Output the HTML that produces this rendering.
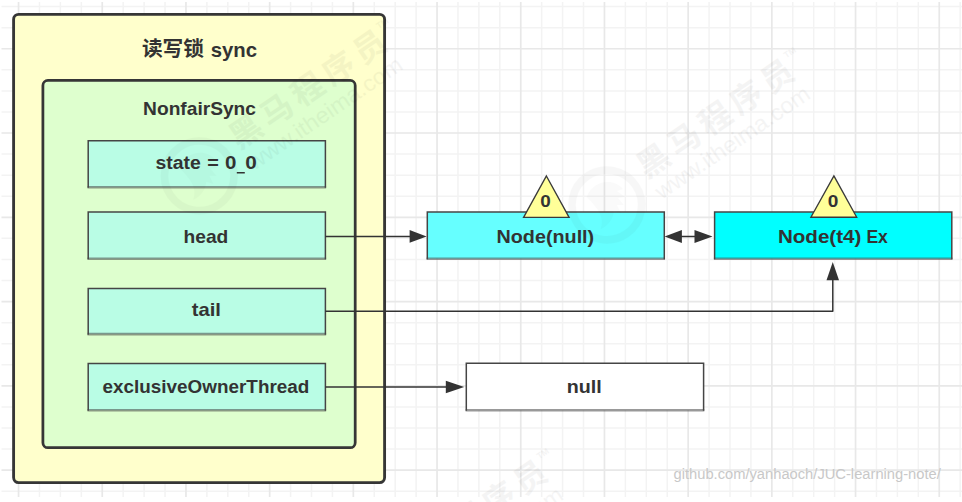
<!DOCTYPE html>
<html><head><meta charset="utf-8"><title>diagram</title>
<style>
html,body{margin:0;padding:0;background:#fff;}
body{width:962px;height:502px;overflow:hidden;}
svg{display:block;font-family:"Liberation Sans",sans-serif;}
</style></head><body>
<svg width="962" height="502" viewBox="0 0 962 502">
<rect width="962" height="502" fill="#ffffff"/>
<path d="M39.48 2 V497 M60.40 2 V497 M81.33 2 V497 M123.17 2 V497 M144.10 2 V497 M165.03 2 V497 M206.88 2 V497 M227.80 2 V497 M248.73 2 V497 M290.58 2 V497 M311.50 2 V497 M332.43 2 V497 M374.28 2 V497 M395.20 2 V497 M416.12 2 V497 M457.98 2 V497 M478.90 2 V497 M499.83 2 V497 M541.67 2 V497 M562.60 2 V497 M583.52 2 V497 M625.38 2 V497 M646.30 2 V497 M667.23 2 V497 M709.07 2 V497 M730.00 2 V497 M750.92 2 V497 M792.77 2 V497 M813.70 2 V497 M834.62 2 V497 M876.48 2 V497 M897.40 2 V497 M918.32 2 V497 M960.17 2 V497 M1.5 6.60 H962 M1.5 27.67 H962 M1.5 69.81 H962 M1.5 90.88 H962 M1.5 111.95 H962 M1.5 154.09 H962 M1.5 175.16 H962 M1.5 196.23 H962 M1.5 238.37 H962 M1.5 259.44 H962 M1.5 280.51 H962 M1.5 322.65 H962 M1.5 343.72 H962 M1.5 364.79 H962 M1.5 406.93 H962 M1.5 428.00 H962 M1.5 449.07 H962 M1.5 491.21 H962" stroke="#f3f3f3" stroke-width="1.5" fill="none"/>
<path d="M18.55 2 V497 M102.25 2 V497 M185.95 2 V497 M269.65 2 V497 M353.35 2 V497 M437.05 2 V497 M520.75 2 V497 M604.45 2 V497 M688.15 2 V497 M771.85 2 V497 M855.55 2 V497 M939.25 2 V497 M1.5 48.74 H962 M1.5 133.02 H962 M1.5 217.30 H962 M1.5 301.58 H962 M1.5 385.86 H962 M1.5 470.14 H962" stroke="#e8e8e8" stroke-width="1.7" fill="none"/>
<rect x="13.60" y="14.40" width="371.00" height="468.20" rx="5" fill="#ffffcc" stroke="#363636" stroke-width="2.85"/>
<rect x="42.90" y="80.40" width="312.30" height="367.30" rx="5" fill="#deffce" stroke="#363636" stroke-width="2.75"/>
<rect x="88.20" y="140.85" width="237.20" height="46.35" fill="#b9fde5"/><path d="M87.50 187.30 H326.10" stroke="#454545" stroke-opacity="0.55" stroke-width="2.6" fill="none"/><path d="M88.20 187.80 V140.85 H325.40 V187.80" stroke="#454545" stroke-width="1.5" fill="none" stroke-linejoin="miter"/>
<rect x="88.20" y="212.10" width="237.20" height="46.60" fill="#b9fde5"/><path d="M87.50 258.80 H326.10" stroke="#454545" stroke-opacity="0.55" stroke-width="2.6" fill="none"/><path d="M88.20 259.30 V212.10 H325.40 V259.30" stroke="#454545" stroke-width="1.5" fill="none" stroke-linejoin="miter"/>
<rect x="88.20" y="288.45" width="237.20" height="45.60" fill="#b9fde5"/><path d="M87.50 334.15 H326.10" stroke="#454545" stroke-opacity="0.55" stroke-width="2.6" fill="none"/><path d="M88.20 334.65 V288.45 H325.40 V334.65" stroke="#454545" stroke-width="1.5" fill="none" stroke-linejoin="miter"/>
<rect x="88.20" y="363.50" width="237.20" height="46.60" fill="#b9fde5"/><path d="M87.50 410.20 H326.10" stroke="#454545" stroke-opacity="0.55" stroke-width="2.6" fill="none"/><path d="M88.20 410.70 V363.50 H325.40 V410.70" stroke="#454545" stroke-width="1.5" fill="none" stroke-linejoin="miter"/>
<rect x="427.30" y="212.10" width="237.00" height="46.60" fill="#66ffff"/><path d="M426.60 258.80 H665.00" stroke="#454545" stroke-opacity="0.55" stroke-width="2.6" fill="none"/><path d="M427.30 259.30 V212.10 H664.30 V259.30" stroke="#454545" stroke-width="1.5" fill="none" stroke-linejoin="miter"/>
<rect x="714.60" y="212.05" width="237.20" height="46.65" fill="#00ffff"/><path d="M713.90 258.80 H952.50" stroke="#454545" stroke-opacity="0.55" stroke-width="2.6" fill="none"/><path d="M714.60 259.30 V212.05 H951.80 V259.30" stroke="#454545" stroke-width="1.5" fill="none" stroke-linejoin="miter"/>
<rect x="466.30" y="363.30" width="237.30" height="46.80" fill="#ffffff"/><path d="M465.60 410.20 H704.30" stroke="#454545" stroke-opacity="0.55" stroke-width="2.6" fill="none"/><path d="M466.30 410.70 V363.30 H703.60 V410.70" stroke="#454545" stroke-width="1.5" fill="none" stroke-linejoin="miter"/>
<path d="M546.40 176.00 L569.10 217.40 L523.60 217.40 Z" fill="#ffff99" stroke="#3a3a3a" stroke-width="1.35" stroke-linejoin="miter"/>
<path d="M833.90 175.90 L856.70 217.20 L810.90 217.20 Z" fill="#ffff99" stroke="#3a3a3a" stroke-width="1.35" stroke-linejoin="miter"/>
<path d="M325.40 236.40 H410.60" stroke="#333333" stroke-width="1.5" fill="none"/><path d="M426.60 236.40 L409.60 230.00 L409.60 242.80 Z" fill="#333333"/>
<path d="M325.40 387.05 H446.80" stroke="#333333" stroke-width="1.5" fill="none"/><path d="M464.20 387.05 L445.80 380.85 L445.80 393.25 Z" fill="#333333"/>
<path d="M670 236.40 H708" stroke="#333333" stroke-width="1.5"/>
<path d="M664.6 236.40 L681.9 229.90 L681.9 242.90 Z" fill="#333333"/>
<path d="M712.5 236.40 L694.5 229.90 L694.5 242.90 Z" fill="#333333"/>
<path d="M325.4 311.15 H832.8 V279" stroke="#333333" stroke-width="1.5" fill="none" stroke-linejoin="round"/>
<path d="M832.75 262.0 L826.5 280.3 L839.0 280.3 Z" fill="#333333"/>
<g opacity="0.999">
<text x="143.10" y="115.00" font-size="18.2" font-weight="bold" fill="#333333" textLength="112.90" lengthAdjust="spacingAndGlyphs" >NonfairSync</text>
<text x="155.40" y="169.00" font-size="17.6" font-weight="bold" fill="#333333" textLength="45.30" lengthAdjust="spacingAndGlyphs" >state</text>
<text x="207.30" y="169.00" font-size="17.6" font-weight="bold" fill="#333333" textLength="11.60" lengthAdjust="spacingAndGlyphs" >=</text>
<text x="224.90" y="169.00" font-size="17.6" font-weight="bold" fill="#333333" textLength="11.40" lengthAdjust="spacingAndGlyphs" >0</text>
<text x="245.20" y="169.00" font-size="17.6" font-weight="bold" fill="#333333" textLength="11.50" lengthAdjust="spacingAndGlyphs" >0</text>
<rect x="236.8" y="172.0" width="8.0" height="1.5" fill="#333333"/>
<text x="183.50" y="242.60" font-size="19" font-weight="bold" fill="#333333" textLength="44.80" lengthAdjust="spacingAndGlyphs" >head</text>
<text x="191.70" y="316.40" font-size="19" font-weight="bold" fill="#333333" textLength="29.20" lengthAdjust="spacingAndGlyphs" >tail</text>
<text x="102.60" y="393.20" font-size="18.0" font-weight="bold" fill="#333333" textLength="206.70" lengthAdjust="spacingAndGlyphs" >exclusiveOwnerThread</text>
<text x="496.50" y="242.70" font-size="18.4" font-weight="bold" fill="#333333" textLength="97.70" lengthAdjust="spacingAndGlyphs" >Node(null)</text>
<text x="777.90" y="242.70" font-size="18.4" font-weight="bold" fill="#333333" textLength="83.50" lengthAdjust="spacingAndGlyphs" >Node(t4)</text>
<text x="866.40" y="242.70" font-size="18.4" font-weight="bold" fill="#333333" textLength="21.50" lengthAdjust="spacingAndGlyphs" >Ex</text>
<text x="566.80" y="393.30" font-size="19" font-weight="bold" fill="#333333" textLength="35.00" lengthAdjust="spacingAndGlyphs" >null</text>
<text x="540.30" y="206.80" font-size="16.2" font-weight="bold" fill="#333333" textLength="10.50" lengthAdjust="spacingAndGlyphs" >0</text>
<text x="827.70" y="206.80" font-size="16.2" font-weight="bold" fill="#333333" textLength="10.60" lengthAdjust="spacingAndGlyphs" >0</text>
<text x="210.70" y="56.80" font-size="20.2" font-weight="bold" fill="#333333" textLength="46.30" lengthAdjust="spacingAndGlyphs" >sync</text>
</g>
<text x="141.9" y="56.3" font-size="20.4" font-weight="bold" fill="#333333" textLength="62" lengthAdjust="spacingAndGlyphs" style="font-family:'Liberation Sans','Noto Sans CJK SC',sans-serif;">读写锁</text>
<g transform="translate(606.8,205.0) rotate(-34.3)" opacity="0.038"><circle cx="0" cy="0" r="34.8" fill="none" stroke="#000" stroke-width="7.6" opacity="0.65"/><g transform="rotate(34.3)"><path d="M-20 -8 C-14 -24 6 -28 16 -16 L10 -14 L18 -8 L11 -7 L17 0 L10 0 L14 8 L7 6 C6 14 2 20 -6 24 C-2 12 -8 4 -20 -8 Z" fill="#000" opacity="0.45"/></g><text x="47.25" y="0.97" font-size="32" font-weight="bold" fill="#000" textLength="182" lengthAdjust="spacing" style="font-family:'Liberation Sans','Noto Sans CJK SC',sans-serif;">黑马程序员</text><text x="48" y="26.8" font-size="22.5" textLength="182" lengthAdjust="spacingAndGlyphs" fill="#000">www.itheima.com</text><text x="231" y="-20" font-size="8.5" font-weight="bold" fill="#000">TM</text></g>
<g transform="translate(199.3,175.8) rotate(-34.3)" opacity="0.038"><circle cx="0" cy="0" r="34.8" fill="none" stroke="#000" stroke-width="7.6" opacity="0.65"/><g transform="rotate(34.3)"><path d="M-20 -8 C-14 -24 6 -28 16 -16 L10 -14 L18 -8 L11 -7 L17 0 L10 0 L14 8 L7 6 C6 14 2 20 -6 24 C-2 12 -8 4 -20 -8 Z" fill="#000" opacity="0.45"/></g><text x="47.25" y="0.97" font-size="32" font-weight="bold" fill="#000" textLength="182" lengthAdjust="spacing" style="font-family:'Liberation Sans','Noto Sans CJK SC',sans-serif;">黑马程序员</text><text x="48" y="26.8" font-size="22.5" textLength="182" lengthAdjust="spacingAndGlyphs" fill="#000">www.itheima.com</text><text x="231" y="-20" font-size="8.5" font-weight="bold" fill="#000">TM</text></g>
<g transform="translate(359.8,606.0) rotate(-34.3)" opacity="0.038"><circle cx="0" cy="0" r="34.8" fill="none" stroke="#000" stroke-width="7.6" opacity="0.65"/><g transform="rotate(34.3)"><path d="M-20 -8 C-14 -24 6 -28 16 -16 L10 -14 L18 -8 L11 -7 L17 0 L10 0 L14 8 L7 6 C6 14 2 20 -6 24 C-2 12 -8 4 -20 -8 Z" fill="#000" opacity="0.45"/></g><text x="47.25" y="0.97" font-size="32" font-weight="bold" fill="#000" textLength="182" lengthAdjust="spacing" style="font-family:'Liberation Sans','Noto Sans CJK SC',sans-serif;">黑马程序员</text><text x="48" y="26.8" font-size="22.5" textLength="182" lengthAdjust="spacingAndGlyphs" fill="#000">www.itheima.com</text><text x="231" y="-20" font-size="8.5" font-weight="bold" fill="#000">TM</text></g>
<g opacity="0.999"><text x="673.50" y="479.30" font-size="15.4" font-weight="normal" fill="#c8c8c8" textLength="267.30" lengthAdjust="spacingAndGlyphs" >github.com/yanhaoch/JUC-learning-note/</text></g>
</svg>
</body></html>
